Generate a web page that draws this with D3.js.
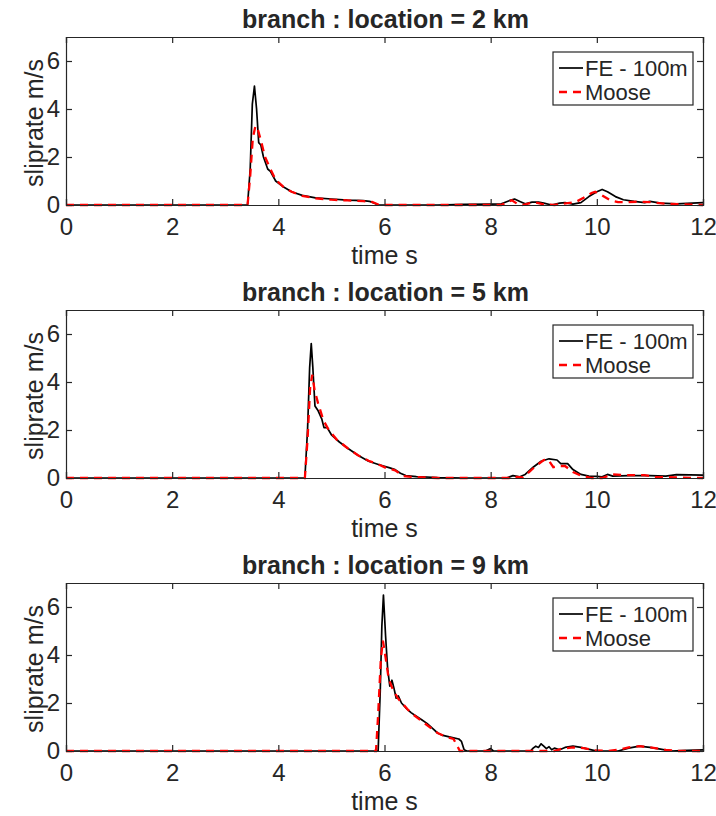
<!DOCTYPE html>
<html>
<head>
<meta charset="utf-8">
<script src="https://cdn.jsdelivr.net/npm/d3@7"></script>
<style>
  body { margin: 0; background: #fff; }
  text { font-family: "Liberation Sans", Arial, Helvetica, sans-serif; fill: #262626; }
</style>
</head>
<body>
<svg id="chart" width="716" height="816"></svg>
<script>
// ---- data ----
const panelTitles = ["branch : location = 2 km", "branch : location = 5 km", "branch : location = 9 km"];
const xTicks = [0, 2, 4, 6, 8, 10, 12];
const yTicks = [0, 2, 4, 6];
const seriesNames = ["FE - 100m", "Moose"];

const fe2km = [[0,0],[3.42,0],[3.47,1.5],[3.51,4.2],[3.55,4.95],[3.59,4.0],[3.63,2.6],[3.67,2.5],[3.72,2.0],[3.8,1.5],[3.85,1.4],[3.95,1.0],[4.1,0.75],[4.25,0.55],[4.45,0.4],[4.7,0.3],[5.0,0.25],[5.3,0.2],[5.6,0.18],[5.72,0.15],[5.8,0.08],[5.88,0],[7.0,0],[7.5,0.03],[8.0,0.04],[8.2,0.05],[8.35,0.18],[8.45,0.25],[8.55,0.15],[8.65,0.05],[8.78,0.12],[8.9,0.12],[9.0,0.08],[9.15,0.0],[9.3,0.08],[9.4,0.1],[9.55,0.04],[9.7,0.1],[9.85,0.35],[10.0,0.55],[10.1,0.65],[10.2,0.55],[10.35,0.35],[10.5,0.22],[10.7,0.15],[10.9,0.1],[11.0,0.15],[11.2,0.08],[11.5,0.05],[11.8,0.08],[12,0.1]];
const moose2km = [[0,0],[3.42,0],[3.47,1.2],[3.52,2.8],[3.57,3.3],[3.62,3.1],[3.67,2.7],[3.75,2.0],[3.85,1.5],[3.95,1.05],[4.1,0.75],[4.25,0.55],[4.45,0.38],[4.7,0.28],[5.0,0.22],[5.3,0.19],[5.6,0.16],[5.75,0.14],[5.85,0.05],[5.9,0],[8.2,0],[8.3,0.1],[8.4,0.2],[8.5,0.05],[8.6,0.0],[8.75,0.08],[8.85,0.1],[9.0,0.03],[9.2,0.0],[9.45,0.08],[9.6,0.12],[9.75,0.3],[9.9,0.5],[9.97,0.55],[10.1,0.4],[10.25,0.2],[10.4,0.12],[10.6,0.12],[10.8,0.14],[11.0,0.12],[11.3,0.05],[11.6,0.03],[12,0.0]];
const fe5km = [[0,0],[4.5,0],[4.55,2.0],[4.59,4.6],[4.62,5.6],[4.65,4.6],[4.69,3.0],[4.75,2.8],[4.82,2.45],[4.86,2.1],[4.92,2.1],[5.0,1.8],[5.15,1.5],[5.3,1.25],[5.5,0.95],[5.7,0.7],[5.9,0.55],[6.1,0.42],[6.2,0.35],[6.3,0.2],[6.4,0.1],[6.6,0.06],[7.0,0.02],[7.5,0],[8.3,0],[8.42,0.1],[8.55,0.05],[8.65,0.15],[8.8,0.45],[8.95,0.7],[9.1,0.8],[9.25,0.75],[9.32,0.6],[9.45,0.6],[9.55,0.35],[9.7,0.15],[9.85,0.08],[10.0,0.07],[10.1,0.05],[10.2,0.15],[10.3,0.08],[10.6,0.1],[11.0,0.1],[11.3,0.08],[11.5,0.14],[12,0.12]];
const moose5km = [[0,0],[4.5,0],[4.55,1.6],[4.6,3.8],[4.64,4.3],[4.68,3.7],[4.75,3.1],[4.85,2.4],[4.95,2.0],[5.1,1.6],[5.3,1.25],[5.5,0.95],[5.7,0.72],[5.9,0.55],[6.05,0.4],[6.2,0.32],[6.35,0.08],[6.5,0.05],[7.0,0],[8.35,0],[8.45,0.05],[8.6,0.02],[8.7,0.2],[8.85,0.5],[9.0,0.75],[9.08,0.78],[9.18,0.45],[9.3,0.5],[9.4,0.5],[9.55,0.25],[9.7,0.1],[9.9,0.0],[10.1,0.0],[10.3,0.15],[10.6,0.12],[10.9,0.12],[11.1,0.05],[11.5,0.02],[12,0.0]];
const fe9km = [[0,0],[5.88,0],[5.92,2.5],[5.95,5.2],[5.98,6.5],[6.02,4.8],[6.06,3.4],[6.1,2.7],[6.14,2.95],[6.18,2.6],[6.22,2.2],[6.26,2.3],[6.32,2.0],[6.4,1.8],[6.5,1.6],[6.6,1.45],[6.7,1.3],[6.8,1.15],[6.9,0.95],[7.0,0.75],[7.1,0.65],[7.2,0.6],[7.3,0.55],[7.4,0.5],[7.45,0.4],[7.5,0.05],[7.55,0],[7.9,0],[7.95,0.05],[8.0,0.1],[8.05,0.0],[8.75,0],[8.8,0.12],[8.85,0.2],[8.9,0.15],[8.95,0.3],[9.0,0.2],[9.05,0.1],[9.1,0.18],[9.15,0.05],[9.2,0.12],[9.3,0.05],[9.4,0.15],[9.55,0.2],[9.7,0.15],[9.9,0.05],[10.0,0.0],[10.4,0.0],[10.6,0.12],[10.8,0.2],[11.0,0.15],[11.2,0.08],[11.4,0.0],[11.7,0.03],[12,0.05]];
const moose9km = [[0,0],[5.84,0],[5.88,1.5],[5.93,3.8],[5.97,4.6],[6.02,3.9],[6.08,3.0],[6.15,2.6],[6.25,2.2],[6.35,1.95],[6.45,1.7],[6.55,1.5],[6.7,1.25],[6.85,1.0],[7.0,0.75],[7.15,0.6],[7.3,0.5],[7.35,0.3],[7.42,0.0],[9.2,0],[9.35,0.1],[9.55,0.15],[9.75,0.12],[9.95,0.03],[10.2,0.0],[10.4,0.05],[10.6,0.15],[10.8,0.2],[11.0,0.15],[11.3,0.05],[11.5,0.0],[12,0.0]];

const panelSeries = [[fe2km, moose2km], [fe5km, moose5km], [fe9km, moose9km]];

// ---- layout ----
const svg = d3.select("#chart");
const left = 66, right = 703, plotH = 168;
const panelTops = [37, 310, 583];
const axisColor = "#262626";

const x = d3.scaleLinear().domain([0, 12]).range([left, right]);

panelTitles.forEach((title, i) => {
  const top = panelTops[i];
  const y = d3.scaleLinear().domain([0, 7]).range([top + plotH, top]);
  const g = svg.append("g");

  // curves
  const line = d3.line().x(d => x(d[0])).y(d => y(d[1]));
  const [fe, moose] = panelSeries[i];
  g.append("path").datum(fe).attr("d", line)
    .attr("fill", "none").attr("stroke", "#000").attr("stroke-width", 1.7)
    .attr("stroke-linejoin", "round");
  g.append("path").datum(moose).attr("d", line)
    .attr("fill", "none").attr("stroke", "#ff0000").attr("stroke-width", 2.3)
    .attr("stroke-dasharray", "8,6");

  // axes (ticks inside, mirrored like a boxed MATLAB axes)
  const bottomAx = g.append("g").attr("transform", `translate(0,${top + plotH})`)
    .call(d3.axisBottom(x).tickValues(xTicks).tickSize(-6).tickPadding(13).tickFormat(d3.format("d")));
  const topAx = g.append("g").attr("transform", `translate(0,${top})`)
    .call(d3.axisTop(x).tickValues(xTicks).tickSize(-6).tickFormat(""));
  const leftAx = g.append("g").attr("transform", `translate(${left},0)`)
    .call(d3.axisLeft(y).tickValues(yTicks).tickSize(-6).tickPadding(6).tickFormat(d3.format("d")));
  const rightAx = g.append("g").attr("transform", `translate(${right},0)`)
    .call(d3.axisRight(y).tickValues(yTicks).tickSize(-6).tickFormat(""));
  [bottomAx, topAx, leftAx, rightAx].forEach(a => {
    a.select(".domain").attr("stroke", axisColor).attr("stroke-width", 1.2);
    a.selectAll(".tick line").attr("stroke", axisColor).attr("stroke-width", 1.2);
    a.selectAll(".tick text").style("font-size", "24px").attr("fill", axisColor);
  });
  bottomAx.selectAll(".tick text").attr("dy", "0.71em");

  // title
  g.append("text").attr("x", (left + right) / 2 + 1).attr("y", top - 9)
    .attr("text-anchor", "middle").style("font-size", "25px").style("font-weight", "bold")
    .attr("fill", "#000").text(title);

  // axis labels
  g.append("text").attr("x", (left + right) / 2).attr("y", top + 227)
    .attr("text-anchor", "middle").style("font-size", "25px").text("time s");
  g.append("text").attr("transform", `translate(43,${top + plotH / 2 + 2}) rotate(-90)`)
    .attr("text-anchor", "middle").style("font-size", "25px").text("sliprate m/s");

  // legend
  const lg = g.append("g").attr("transform", `translate(553,${top + 15})`);
  lg.append("rect").attr("width", 140).attr("height", 53)
    .attr("fill", "#fff").attr("stroke", axisColor).attr("stroke-width", 1.2);
  seriesNames.forEach((name, k) => {
    const yy = 16 + k * 24;
    lg.append("line").attr("x1", 6).attr("x2", 30).attr("y1", yy).attr("y2", yy)
      .attr("stroke", k === 0 ? "#000" : "#ff0000")
      .attr("stroke-width", k === 0 ? 1.7 : 2.3)
      .attr("stroke-dasharray", k === 0 ? null : "8,6");
    lg.append("text").attr("x", 32).attr("y", yy).attr("dy", "0.35em")
      .style("font-size", "22px").attr("fill", "#000").text(name);
  });
});
</script>
</body>
</html>
